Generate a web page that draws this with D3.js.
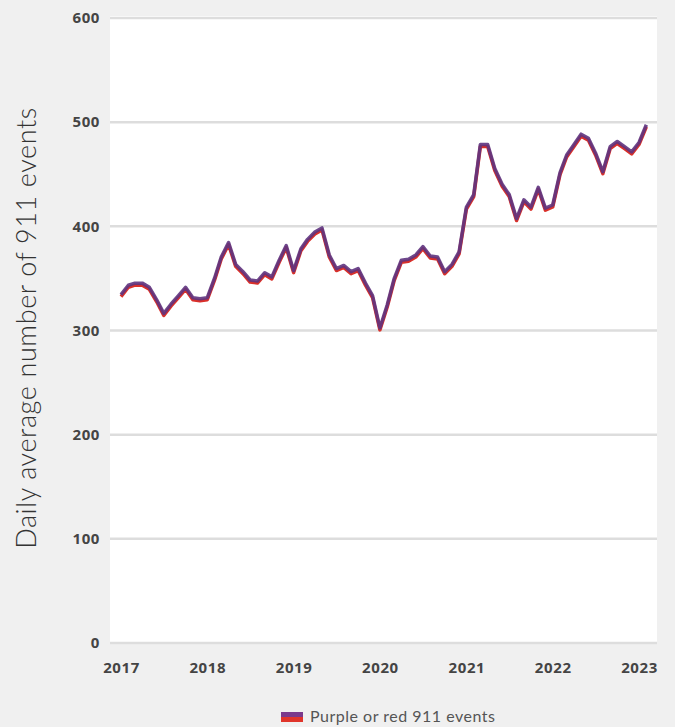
<!DOCTYPE html>
<html>
<head>
<meta charset="utf-8">
<script src="https://cdn.jsdelivr.net/npm/d3@7"></script>
<style>
  body { margin: 0; background: #f0f0f0; }
  .axis text { font-family: "Open Sans", sans-serif; font-weight: 700; font-size: 15px; fill: #444; letter-spacing: 0.6px; }
</style>
</head>
<body>
<script>
// monthly values, Jan 2017 - Feb 2023
const startMonth = [2017, 0];
const events = [
  334, 343, 345, 345, 341, 329, 316, 325, 333, 341, 331, 330,
  331, 350, 370, 384, 363, 356, 348, 347, 355, 351, 367, 381,
  357, 378, 387, 394, 398, 372, 359, 362, 356, 359, 345, 333,
  302, 324, 349, 367, 368, 372, 380, 371, 370, 356, 363, 375,
  418, 430, 478, 478, 455, 440, 430, 407, 425, 418, 437, 417,
  420, 451, 468, 478, 488, 484, 470, 452, 476, 481, 476, 471,
  480, 497
];
const yTicks = [0, 100, 200, 300, 400, 500, 600];
const xTickYears = [2017, 2018, 2019, 2020, 2021, 2022, 2023];
const yLabel = 'Daily average number of 911 events';
const legendLabel = 'Purple or red 911 events';

const data = events.map((v, i) => ({ date: new Date(startMonth[0], startMonth[1] + i, 1), value: v }));

// dimensions
const W = 675, H = 727;
const plot = { left: 110, right: 657, top: 16, bottom: 643 };

const svg = d3.select('body')
              .append('svg')
              .attr('width', W)
              .attr('height', H);

// scales
const xScale = d3.scaleTime()
                 .domain([new Date(2017, 0, 1), new Date(2023, 0, 1)])
                 .range([121, 639]);
const yScale = d3.scaleLinear()
                 .domain([0, 600])
                 .range([643, 18]);

// white plot background
svg.append('rect')
   .attr('x', plot.left)
   .attr('y', plot.top)
   .attr('width', plot.right - plot.left)
   .attr('height', plot.bottom - plot.top)
   .attr('fill', '#ffffff');

// gridlines
svg.append('g')
   .selectAll('line')
   .data(yTicks)
   .enter()
   .append('line')
   .attr('x1', plot.left)
   .attr('x2', plot.right)
   .attr('y1', d => yScale(d))
   .attr('y2', d => yScale(d))
   .attr('stroke', '#dddddd')
   .attr('stroke-width', 2.5);

// y-axis labels
const yAxis = d3.axisLeft(yScale).tickValues(yTicks).tickSize(0).tickPadding(10);
svg.append('g')
   .attr('class', 'axis')
   .attr('transform', `translate(${plot.left},0)`)
   .call(yAxis)
   .call(g => g.select('.domain').remove());

// x-axis labels
const xAxis = d3.axisBottom(xScale)
                .tickValues(xTickYears.map(y => new Date(y, 0, 1)))
                .tickFormat(d3.timeFormat('%Y'))
                .tickSize(0)
                .tickPadding(19);
svg.append('g')
   .attr('class', 'axis')
   .attr('transform', `translate(0,${plot.bottom})`)
   .call(xAxis)
   .call(g => g.select('.domain').remove());

// y-axis title
svg.append('text')
   .attr('transform', 'translate(36,328) rotate(-90)')
   .attr('text-anchor', 'middle')
   .style('font-family', 'Lato, sans-serif')
   .style('font-weight', 300)
   .style('font-size', '27px')
   .style('letter-spacing', '0.6px')
   .style('fill', '#333')
   .text(yLabel);

// lines: red underneath, purple on top
const valueLine = d3.line()
                    .x(d => xScale(d.date))
                    .y(d => yScale(d.value));

svg.append('path')
   .datum(data)
   .attr('d', valueLine)
   .attr('transform', 'translate(0,1.5)')
   .attr('fill', 'none')
   .attr('stroke', '#d9302a')
   .attr('stroke-width', 3.5)
   .attr('stroke-linejoin', 'round');

svg.append('path')
   .datum(data)
   .attr('d', valueLine)
   .attr('transform', 'translate(0,-0.5)')
   .attr('fill', 'none')
   .attr('stroke', '#5e3480')
   .attr('stroke-width', 3.5)
   .attr('stroke-linejoin', 'round')
   .attr('stroke-opacity', 0.9);

// legend
const legend = svg.append('g').attr('transform', 'translate(281,712)');
legend.append('rect').attr('width', 22).attr('height', 5).attr('fill', '#7b3a8c');
legend.append('rect').attr('y', 5).attr('width', 22).attr('height', 5).attr('fill', '#e0352b');
legend.append('text')
      .attr('x', 29)
      .attr('y', 10)
      .style('font-family', 'Lato, sans-serif')
      .style('font-size', '16px')
      .style('letter-spacing', '0.5px')
      .style('fill', '#555')
      .text(legendLabel);
</script>
</body>
</html>
